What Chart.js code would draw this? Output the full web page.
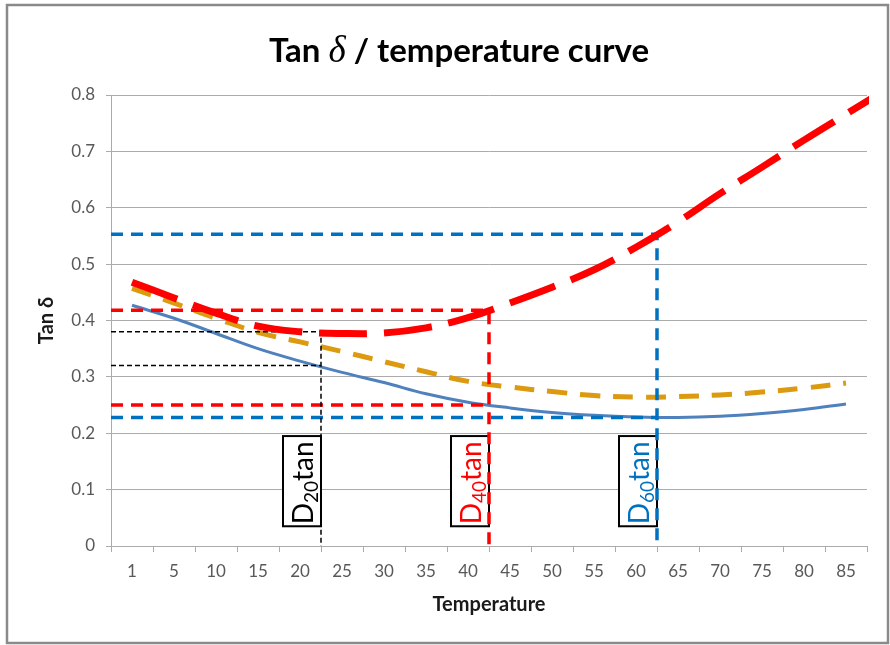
<!DOCTYPE html>
<html>
<head>
<meta charset="utf-8">
<script src="https://cdn.jsdelivr.net/npm/chart.js@4/dist/chart.umd.min.js"></script>
<style>
  html, body { margin: 0; padding: 0; background: #fff; }
  canvas { display: block; }
</style>
</head>
<body>
<canvas id="tanChart" width="890" height="645"></canvas>
<script>
// Tan delta / temperature curve
const temps = ["1", "5", "10", "15", "20", "25", "30", "35", "40", "45", "50", "55", "60", "65", "70", "75", "80", "85"];
const blueVals = [0.427, 0.404, 0.377, 0.350, 0.328, 0.308, 0.290, 0.270, 0.255, 0.245, 0.237, 0.232, 0.229, 0.228, 0.230, 0.235, 0.242, 0.252];
const orangeVals = [0.457, 0.431, 0.404, 0.379, 0.362, 0.345, 0.327, 0.309, 0.292, 0.282, 0.274, 0.267, 0.264, 0.265, 0.268, 0.273, 0.280, 0.289];
// red curve keeps going past the last category (clipped at the plot edge)
const redVals = [0.468, 0.440, 0.413, 0.390, 0.380, 0.377, 0.378, 0.387, 0.405, 0.431, 0.459, 0.490, 0.530, 0.575, 0.625, 0.672, 0.720, 0.766, 0.812];
const yTicks = [0, 0.1, 0.2, 0.3, 0.4, 0.5, 0.6, 0.7, 0.8];

// D20 / D40 / D60 read-off guides
const markTemps = ["20", "40", "60"];
const markX = [4.5, 8.5, 12.5];
const upperLevels = [0.38, 0.418, 0.553];
const lowerLevels = [0.32, 0.25, 0.228];
const markColors = ["#000000", "#ff0000", "#0070c0"];

const toPts = vals => vals.map((v, i) => ({ x: i, y: v }));

const guideSets = [];
markX.forEach((mx, i) => {
  const thin = i === 0;
  const style = {
    borderColor: markColors[i],
    borderWidth: thin ? 1.5 : 3.5,
    borderDash: thin ? [5, 3] : [12, 8],
    pointRadius: 0,
    fill: false,
    tension: 0
  };
  guideSets.push(Object.assign({ data: [{ x: -0.5, y: upperLevels[i] }, { x: mx, y: upperLevels[i] }, { x: mx, y: 0 }] }, style));
  guideSets.push(Object.assign({ data: [{ x: -0.5, y: lowerLevels[i] }, { x: mx, y: lowerLevels[i] }] }, style));
});

const GRID = "#ababab";
const TICK = "#595959";

const framePlugin = {
  id: "frame",
  beforeDraw(chart) {
    const ctx = chart.ctx;
    ctx.save();
    ctx.fillStyle = "#fff";
    ctx.fillRect(0, 0, chart.width, chart.height);
    ctx.strokeStyle = "#8a8a8a";
    ctx.lineWidth = 2.5;
    ctx.strokeRect(7, 5, 881, 638);
    ctx.restore();
  },
  afterDraw(chart) {
    // title with an italic delta
    const ctx = chart.ctx;
    const parts = [
      { t: "Tan ", f: "bold 33px Lato" },
      { t: "\u03b4", f: "italic 37px 'Liberation Serif'" },
      { t: " / temperature curve", f: "bold 33px Lato" }
    ];
    ctx.save();
    ctx.fillStyle = "#000";
    ctx.textBaseline = "alphabetic";
    let total = 0;
    parts.forEach(p => { ctx.font = p.f; p.w = ctx.measureText(p.t).width; total += p.w; });
    let x = 459 - total / 2;
    parts.forEach(p => { ctx.font = p.f; ctx.fillText(p.t, x, 62); x += p.w; });
    ctx.restore();
  }
};

const labelBoxes = {
  id: "labelBoxes",
  beforeDatasetsDraw(chart) {
    const ctx = chart.ctx;
    const xs = chart.scales.x, ys = chart.scales.y;
    markX.forEach((mx, i) => {
      const right = xs.getPixelForValue(mx);
      const top = ys.getPixelForValue(0.195);
      const bottom = ys.getPixelForValue(0.035);
      const w = 38;
      ctx.save();
      ctx.fillStyle = "#fff";
      ctx.fillRect(right - w, top, w, bottom - top);
      ctx.strokeStyle = "#000";
      ctx.lineWidth = 2;
      ctx.strokeRect(right - w, top, w, bottom - top);
      ctx.translate(right - 8, bottom - 2);
      ctx.rotate(-Math.PI / 2);
      ctx.fillStyle = markColors[i];
      ctx.textBaseline = "alphabetic";
      ctx.font = "28px Lato";
      ctx.fillText("D", 0, 0);
      let off = ctx.measureText("D").width;
      ctx.font = "19px Lato";
      ctx.fillText(markTemps[i], off, 5);
      off += ctx.measureText(markTemps[i]).width;
      ctx.font = "28px Lato";
      ctx.fillText("tan", off, 0);
      ctx.restore();
    });
  }
};

new Chart(document.getElementById("tanChart").getContext("2d"), {
  type: "line",
  data: {
    datasets: [
      {
        label: "red",
        data: toPts(redVals),
        borderColor: "#ff0000",
        borderWidth: 7,
        borderDash: [48, 17],
        pointRadius: 0,
        tension: 0.4,
        clip: 2
      },
      ...guideSets,
      {
        label: "orange",
        data: toPts(orangeVals),
        borderColor: "#dc9a10",
        borderWidth: 5,
        borderDash: [20, 13],
        pointRadius: 0,
        tension: 0.4
      },
      {
        label: "blue",
        data: toPts(blueVals),
        borderColor: "#4f81bd",
        borderWidth: 3,
        pointRadius: 0,
        tension: 0.4
      }
    ]
  },
  options: {
    responsive: false,
    animation: false,
    layout: { padding: { top: 95, right: 23, bottom: 0, left: 0 } },
    plugins: {
      legend: { display: false },
      tooltip: { enabled: false },
      title: { display: false }
    },
    scales: {
      x: {
        type: "linear",
        min: -0.5,
        max: 17.5,
        afterBuildTicks: axis => { axis.ticks = temps.concat([""]).map((t, i) => ({ value: i - 0.5 })); },
        afterFit: s => { s.height = 99; s.paddingLeft = 0; s.paddingRight = 0; },
        ticks: {
          autoSkip: false,
          maxRotation: 0,
          labelOffset: 21,
          padding: 9,
          color: TICK,
          font: { family: "Lato", size: 17 },
          callback: (v, i) => temps[i] || ""
        },
        grid: { drawOnChartArea: false, tickLength: 6, color: GRID },
        border: { color: GRID, width: 1 },
        title: {
          display: true,
          text: "Temperature",
          color: "#1a1a1a",
          font: { family: "Lato", size: 20, weight: "bold" },
          padding: { top: 0, bottom: 28 }
        }
      },
      y: {
        min: 0,
        max: 0.8,
        afterBuildTicks: axis => { axis.ticks = yTicks.map(v => ({ value: v })); },
        afterFit: s => { s.width = 111; s.paddingTop = 0; s.paddingBottom = 0; },
        ticks: {
          padding: 11,
          color: TICK,
          font: { family: "Lato", size: 17 },
          callback: v => String(Math.round(v * 10) / 10)
        },
        grid: { color: GRID, lineWidth: 1, tickLength: 5 },
        border: { color: GRID, width: 1 },
        title: {
          display: true,
          text: "Tan \u03b4",
          color: "#1a1a1a",
          font: { family: "Lato", size: 20, weight: "bold" },
          padding: { top: 35, bottom: 0 }
        }
      }
    }
  },
  plugins: [framePlugin, labelBoxes]
});
</script>
</body>
</html>
